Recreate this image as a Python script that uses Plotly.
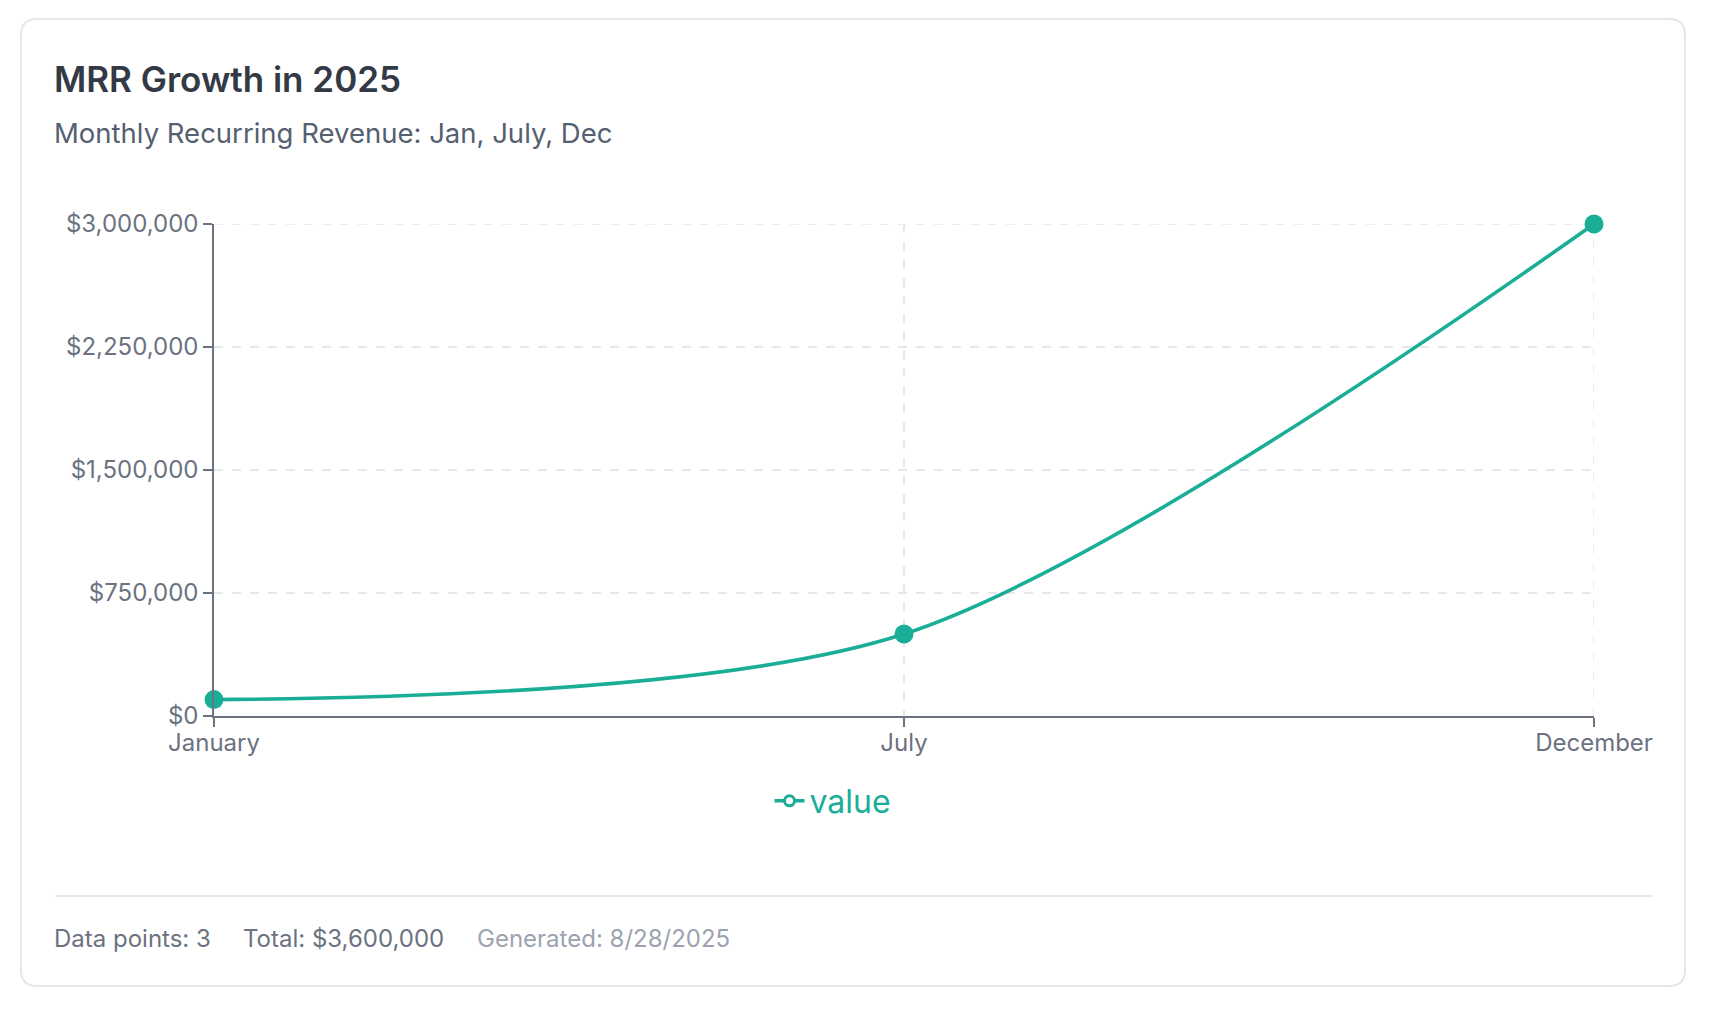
import plotly.graph_objects as go

# data
months = ["January", "July", "December"]
mrr = [100000, 500000, 3000000]
y_ticks = [0, 750000, 1500000, 2250000, 3000000]
y_labels = [f"${v:,}" for v in y_ticks]

title = "MRR Growth in 2025"
subtitle = "Monthly Recurring Revenue: Jan, July, Dec"
footer = ["Data points: 3", "Total: $3,600,000", "Generated: 8/28/2025"]

OFF = 8                      # page body margin
W, H = 1718 - 2 * OFF, 1012 - 2 * OFF
L, R, T, B = 214, 1594, 224, 716   # plot area, screen pixels
teal = "#1aae97"
axis_col = "#6b7280"
grid_col = "#e5e7eb"
font = "Inter, Noto Sans, sans-serif"


def px(x):
    return (x - L) / (R - L)


def py(y):
    return (B - y) / (B - T)


def rounded_rect(x0, y0, x1, y1, r):
    # path in paper coords, corners given in pixels
    pts = [
        f"M {px(x0 + r)},{py(y0)}",
        f"L {px(x1 - r)},{py(y0)}",
        f"Q {px(x1)},{py(y0)} {px(x1)},{py(y0 + r)}",
        f"L {px(x1)},{py(y1 - r)}",
        f"Q {px(x1)},{py(y1)} {px(x1 - r)},{py(y1)}",
        f"L {px(x0 + r)},{py(y1)}",
        f"Q {px(x0)},{py(y1)} {px(x0)},{py(y1 - r)}",
        f"L {px(x0)},{py(y0 + r)}",
        f"Q {px(x0)},{py(y0)} {px(x0 + r)},{py(y0)}",
        "Z",
    ]
    return " ".join(pts)


fig = go.Figure()
fig.add_trace(go.Scatter(
    x=months, y=mrr, mode="lines+markers",
    line=dict(color=teal, width=3.6, shape="spline", smoothing=0.85),
    marker=dict(color=teal, size=19),
    cliponaxis=False, showlegend=False, name="value",
))
# legend entry only (open dot like the original)
fig.add_trace(go.Scatter(
    x=[None], y=[None], mode="lines+markers", name="value",
    line=dict(color=teal, width=3.6),
    marker=dict(symbol="circle", color="white", size=10, line=dict(width=3, color=teal)),
))

grid_dash = dict(color=grid_col, width=1.5, dash="dash")
shapes = [
    dict(type="path", xref="paper", yref="paper", layer="below",
         path=rounded_rect(21, 19, 1685, 986, 16),
         line=dict(color="#e6e7eb", width=2), fillcolor="white"),
    dict(type="line", xref="paper", yref="paper", layer="below",
         x0=px(55), x1=px(1653), y0=py(896), y1=py(896),
         line=dict(color="#e6e7eb", width=2)),
    # edge grid lines plotly leaves out
    dict(type="line", xref="x", yref="y", layer="below",
         x0=months[0], x1=months[-1], y0=y_ticks[-1], y1=y_ticks[-1], line=grid_dash),
    dict(type="line", xref="x", yref="y", layer="below",
         x0=months[-1], x1=months[-1], y0=y_ticks[0], y1=y_ticks[-1], line=grid_dash),
]

annotations = [
    dict(text=title, x=px(52), y=py(79), xanchor="left", yanchor="middle",
         font=dict(size=35, color="#333a45", family=font, weight=600)),
    dict(text=subtitle, x=px(52), y=py(133), xanchor="left", yanchor="middle",
         font=dict(size=27.5, color="#556070", family=font)),
    dict(text=footer[0], x=px(52), y=py(938), xanchor="left", yanchor="middle",
         font=dict(size=24, color="#6b7280", family=font)),
    dict(text=footer[1], x=px(241), y=py(938), xanchor="left", yanchor="middle",
         font=dict(size=24, color="#6b7280", family=font)),
    dict(text=footer[2], x=px(475), y=py(938), xanchor="left", yanchor="middle",
         font=dict(size=24, color="#9ca3af", family=font)),
]
for a in annotations:
    a.update(xref="paper", yref="paper", showarrow=False)

fig.update_layout(
    width=W, height=H,
    margin=dict(l=L - OFF, r=W - (R - OFF), t=T - OFF, b=H - (B - OFF)),
    paper_bgcolor="white", plot_bgcolor="white",
    font=dict(family=font, color=axis_col, size=24),
    shapes=shapes, annotations=annotations,
    showlegend=True,
    legend=dict(orientation="h", x=px(833), xanchor="center", y=py(801), yanchor="middle",
                font=dict(size=32, color=teal, family=font), itemwidth=30),
    xaxis=dict(
        type="category", range=[0, 2], showline=True, linecolor=axis_col, linewidth=1.5,
        ticks="outside", ticklen=9, tickcolor=axis_col, tickwidth=1.5, ticklabelstandoff=-5,
        showgrid=True, gridcolor=grid_col, griddash="dash", gridwidth=1.5,
        tickfont=dict(size=24, color=axis_col), zeroline=False,
    ),
    yaxis=dict(
        range=[0, 3000000], tickvals=y_ticks, ticktext=y_labels,
        showline=True, linecolor=axis_col, linewidth=1.5,
        ticks="outside", ticklen=9, tickcolor=axis_col, tickwidth=1.5,
        showgrid=True, gridcolor=grid_col, griddash="dash", gridwidth=1.5,
        tickfont=dict(size=24, color=axis_col), zeroline=False,
    ),
)

fig.write_html("out.html")
